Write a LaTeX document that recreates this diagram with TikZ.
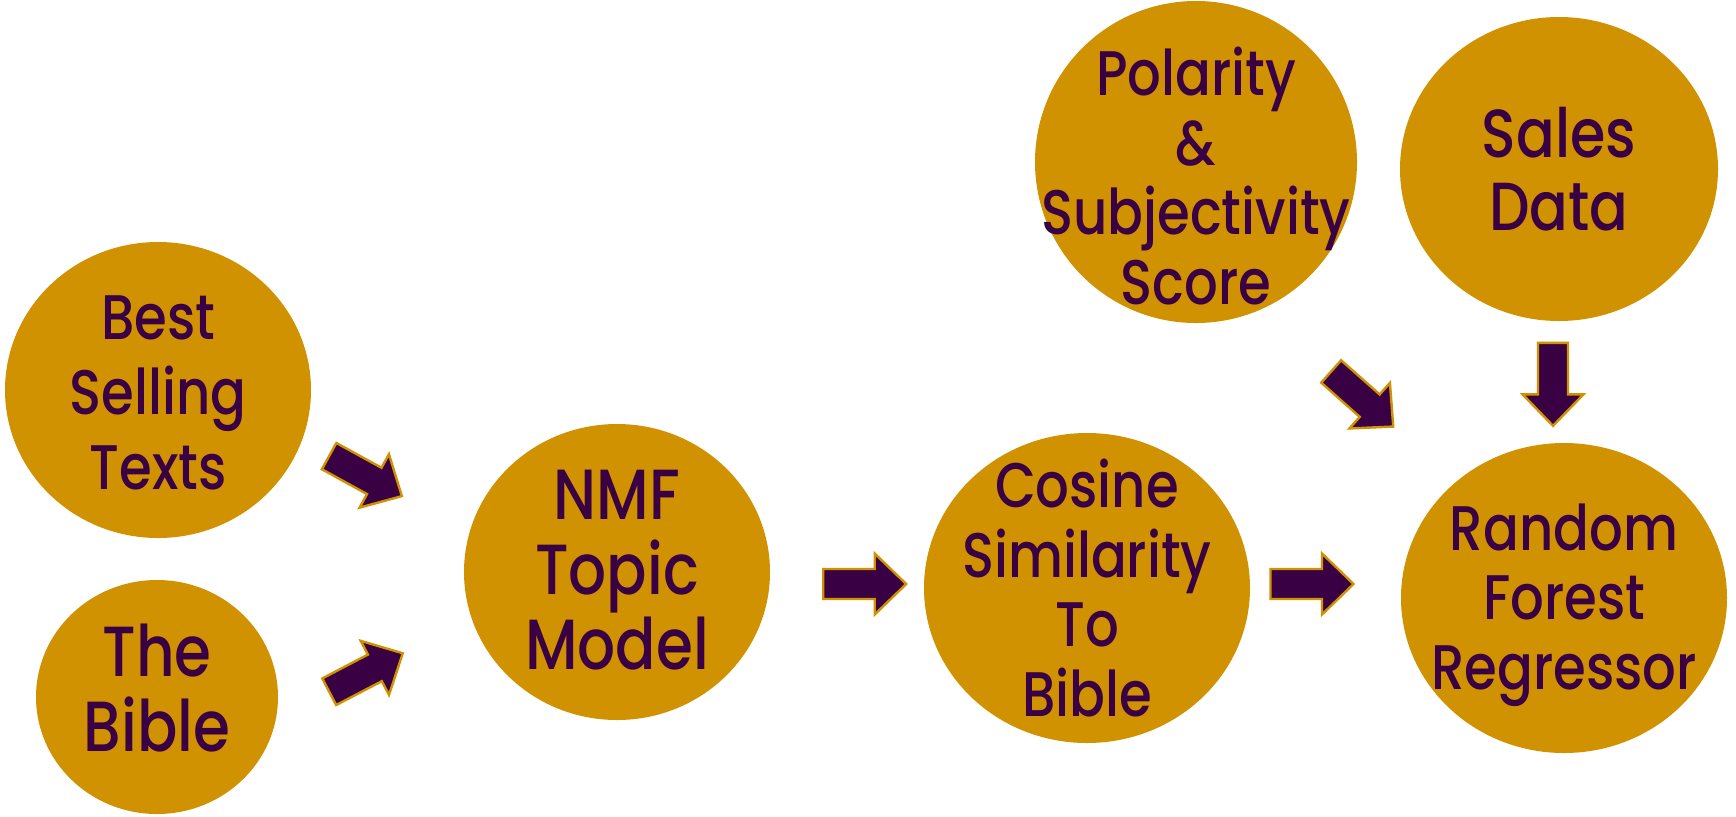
\documentclass[tikz,border=0pt]{standalone}
\usepackage{fontspec}
\setmainfont{Poppins Medium}[FakeStretch=0.84]
\usetikzlibrary{shapes.geometric}

\definecolor{gold}{RGB}{208,146,0}
\definecolor{plum}{RGB}{58,0,68}

\tikzset{
  stage/.style={ellipse, fill=gold, inner sep=0pt, outer sep=0pt},
  stagetext/.style={text=plum, align=center, inner sep=0pt,
    font=\fontsize{31.5}{34.7}\selectfont},
  bigtext/.style={stagetext, font=\fontsize{35.5}{37.5}\selectfont},
  arrowline/.style={fill=plum, draw=gold, line width=1.2pt, line join=miter},
  blockarrow/.pic={
    \draw[arrowline] (-41.5,-15) -- (10,-15) -- (10,-30.5) -- (41.5,0)
      -- (10,30.5) -- (10,15) -- (-41.5,15) -- cycle;
  }
}

\begin{document}
\begin{tikzpicture}[x=0.5pt, y=-0.5pt]
  \useasboundingbox (0,0) rectangle (1736,816);

  % stages
  \node[stage, minimum width=153pt, minimum height=148pt] (texts) at (158,390) {};
  \node[stage, minimum width=121pt, minimum height=117pt] (bible) at (157,697) {};
  \node[stage, minimum width=153pt, minimum height=148pt] (nmf) at (617,572) {};
  \node[stage, minimum width=163pt, minimum height=155pt] (cosine) at (1087,588) {};
  \node[stage, minimum width=161pt, minimum height=161pt] (polarity) at (1196,162) {};
  \node[stage, minimum width=159pt, minimum height=152pt] (sales) at (1559,169) {};
  \node[stage, minimum width=163pt, minimum height=155pt] (forest) at (1564,598) {};

  % labels
  \node[stagetext, font=\fontsize{31.5}{37.5}\selectfont, yshift=-1.5pt] (texts-t) at (texts) {Best\\Selling\\Texts};
  \node[bigtext, yshift=4.5pt] (bible-t) at (bible) {The\\Bible};
  \node[bigtext, yshift=1pt] (nmf-t) at (nmf) {NMF\\Topic\\Model};
  \node[stagetext] (cosine-t) at (cosine) {Cosine\\Similarity\\To\\Bible};
  \node[stagetext, yshift=-7pt] (polarity-t) at (polarity) {Polarity\\\&\\Subjectivity\\Score};
  \node[stagetext, font=\fontsize{34}{36.7}\selectfont] (sales-t) at (sales) {Sales\\Data};
  \node[stagetext, yshift=-3.6pt] (forest-t) at (forest) {Random\\Forest\\Regressor};

  % block arrows
  \pic[rotate=-28.8] at (365.5,476.1) {blockarrow};
  \pic[rotate=27.6] at (366,672.5) {blockarrow};
  \pic at (864.7,584) {blockarrow};
  \pic at (1312,584) {blockarrow};
  \pic[rotate=-41.6] at (1362.2,399) {blockarrow};
  \pic[rotate=-90] at (1553,384.3) {blockarrow};
\end{tikzpicture}
\end{document}
